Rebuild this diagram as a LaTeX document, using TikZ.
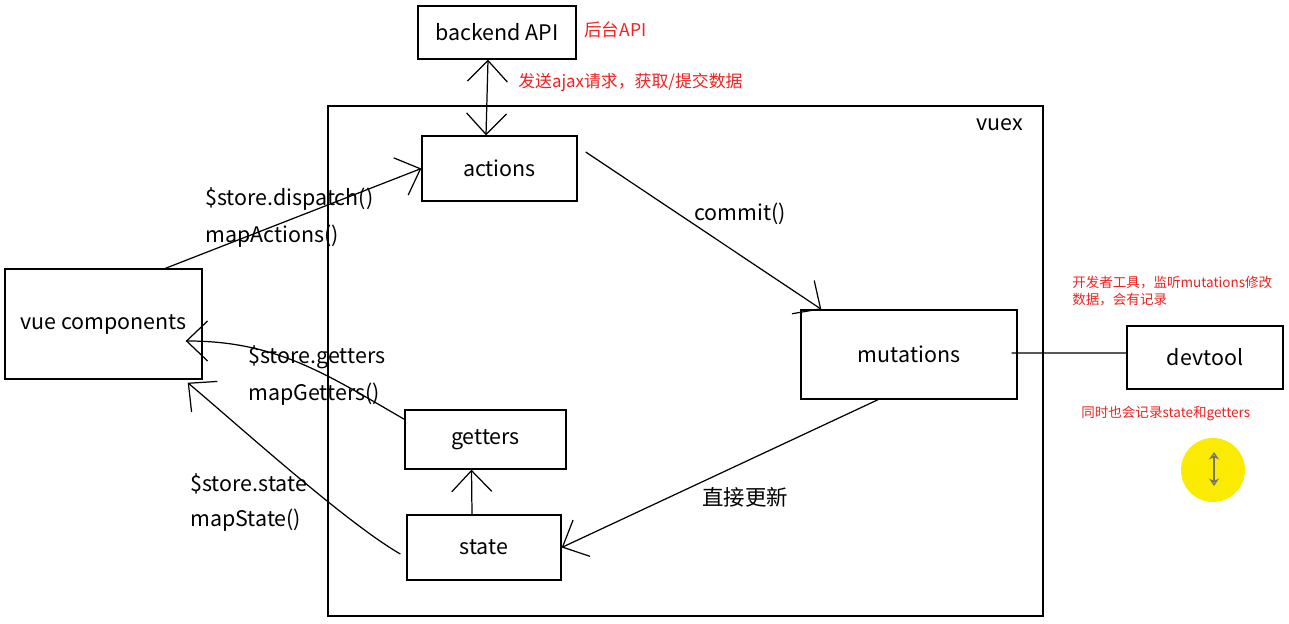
\documentclass[tikz,border=0pt]{standalone}
\usepackage{fontspec}
\setmainfont{Noto Sans CJK SC}
\usepackage{tikz}
\usetikzlibrary{arrows.meta, positioning}
\definecolor{NoteRed}{RGB}{238,34,34}
\definecolor{MarkYellow}{RGB}{250,235,0}
\tikzset{
  box/.style={draw, line width=0.8pt, font=\fontsize{12.2}{14}\selectfont},
  barb/.style={line width=0.7pt, -{Straight Barb[length=0.42cm,width=0.8cm]}},
  lbl/.style={anchor=west, font=\fontsize{12.2}{14}\selectfont, inner sep=0pt},
  note/.style={anchor=west, text=NoteRed, inner sep=0pt}
}
\begin{document}
\begin{tikzpicture}[x=0.02cm, y=0.02cm]
  \useasboundingbox (0,0) rectangle (1289,-624);
  % frame of the store
  \node[draw, line width=0.8pt, minimum width=14.3cm, minimum height=10.2cm] (vuex) at (685.5,-361) {};
  \node[font=\fontsize{12.2}{14}\selectfont] (vuexname) at (1000,-125) {vuex};
  % boxes
  \node[box, minimum width=3.16cm, minimum height=1.06cm] (backend) at (497,-32.5) {backend API};
  \node[box, minimum width=3.1cm, minimum height=1.3cm] (actions) at (499.5,-168.5) {actions};
  \node[box, minimum width=3.94cm, minimum height=2.2cm] (vue) at (103.5,-324) {vue components};
  \node[box, minimum width=4.32cm, minimum height=1.78cm] (mutations) at (909,-354.5) {mutations};
  \node[box, minimum width=3.12cm, minimum height=1.26cm] (devtool) at (1205,-357.5) {devtool};
  \node[box, minimum width=3.22cm, minimum height=1.18cm] (getters) at (485.5,-439.5) {getters};
  \node[box, minimum width=3.08cm, minimum height=1.3cm] (state) at (484,-547.5) {state};
  % connectors
  \draw[barb, {Straight Barb[length=0.42cm,width=0.8cm]}-{Straight Barb[length=0.42cm,width=0.8cm]}] ([xshift=-0.18cm]backend.south) -- ([xshift=-0.27cm]actions.north);
  \draw[barb] ([xshift=1.24cm]vue.north) -- (actions.west);
  \draw[barb] ([yshift=-0.2cm]getters.north west) to[out=150, in=0] ([xshift=-0.34cm, yshift=-0.34cm]vue.east);
  \draw[barb] ([xshift=-0.12cm, yshift=-0.13cm]state.west) to[out=150, in=-40, looseness=0.6] ([xshift=-0.3cm, yshift=-0.06cm]vue.south east);
  \draw[barb] ([xshift=-0.24cm]state.north) -- ([xshift=-0.28cm]getters.south);
  \draw[barb] ([xshift=0.16cm, yshift=0.33cm]actions.east) -- ([xshift=0.42cm]mutations.north west);
  \draw[barb] ([xshift=-0.62cm]mutations.south) -- (state.east);
  \draw[line width=0.8pt] ([xshift=-0.12cm, yshift=0.03cm]mutations.east) -- ([yshift=0.09cm]devtool.west);
  % labels
  \node[lbl] (dispatch) at (205,-199) {\$store.dispatch()};
  \node[lbl] (mapactions) at (205,-236) {mapActions()};
  \node[lbl] (storegetters) at (248,-357) {\$store.getters};
  \node[lbl] (mapgetters) at (248,-394) {mapGetters()};
  \node[lbl] (storestate) at (190,-484) {\$store.state};
  \node[lbl] (mapstate) at (190,-520) {mapState()};
  \node[font=\fontsize{12.2}{14}\selectfont] (commit) at (740,-214) {commit()};
  \node[font=\fontsize{12.2}{14}\selectfont] (direct) at (745,-497) {直接更新};
  % red notes
  \node[note, font=\fontsize{10}{12}\selectfont] (apinote) at (584,-30) {后台API};
  \node[note, font=\fontsize{9.6}{11}\selectfont] (ajaxnote) at (518,-82) {发送ajax请求，获取/提交数据};
  \node[note, align=left, font=\fontsize{7.7}{9.6}\selectfont] (devnote) at (1072,-291) {开发者工具，监听mutations修改\\数据，会有记录};
  \node[note, font=\fontsize{7.7}{9}\selectfont] (recnote) at (1081,-414) {同时也会记录state和getters};
  % cursor mark
  \fill[MarkYellow] (1213,-470) circle (0.64cm);
  \draw[line width=0.9pt, draw=black!55, {Stealth[open,length=0.15cm,width=0.2cm]}-{Stealth[open,length=0.15cm,width=0.2cm]}] (1214,-452) -- (1214,-486);
\end{tikzpicture}
\end{document}
